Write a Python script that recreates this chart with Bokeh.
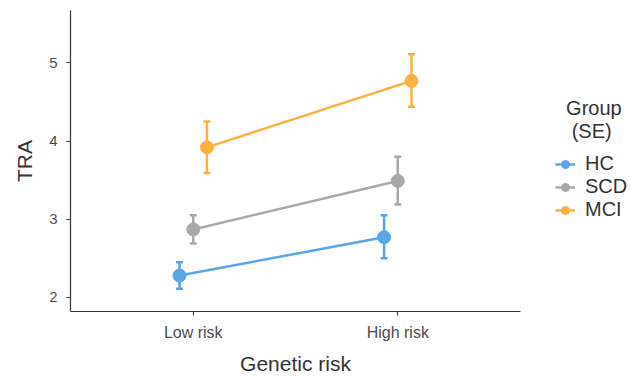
from bokeh.plotting import figure
from bokeh.models import ColumnDataSource, Whisker, TeeHead, Legend, LegendItem, Range1d, FactorRange
from bokeh.transform import dodge
from bokeh.embed import file_html
from bokeh.resources import INLINE

# Data
risk_levels = ["Low risk", "High risk"]
groups = ["HC", "SCD", "MCI"]
colors = ["#58A5EB", "#A8A8A8", "#FBB040"]
offsets = [-0.067, 0.0, 0.067]

hc_mean = [2.28, 2.77]
hc_lower = [2.11, 2.50]
hc_upper = [2.45, 3.05]

scd_mean = [2.87, 3.49]
scd_lower = [2.69, 3.19]
scd_upper = [3.05, 3.80]

mci_mean = [3.92, 4.77]
mci_lower = [3.59, 4.44]
mci_upper = [4.25, 5.11]

y_ticks = [2, 3, 4, 5]

FONT = "Liberation Sans"
FW, FH = 450, 301

p = figure(frame_width=FW, frame_height=FH,
           x_range=FactorRange(*risk_levels, range_padding=0.1, range_padding_units="absolute"),
           y_range=Range1d(1.82, 5.67),
           output_backend="svg", toolbar_location=None,
           min_border_left=70, min_border_right=110, min_border_top=10, min_border_bottom=65)

p.xgrid.visible = False
p.ygrid.visible = False
p.outline_line_color = None
p.background_fill_color = "white"
p.border_fill_color = "white"

for ax in (p.xaxis[0], p.yaxis[0]):
    ax.axis_line_color = "#333333"
    ax.axis_line_width = 1.2
    ax.major_tick_line_color = "#333333"
    ax.major_tick_out = 4
    ax.major_tick_in = 0
    ax.minor_tick_line_color = None
    ax.major_label_text_font = FONT
    ax.major_label_text_color = "#4D4D4D"
    ax.axis_label_text_font = FONT
    ax.axis_label_text_font_size = "21px"
    ax.axis_label_text_font_style = "normal"
    ax.axis_label_text_color = "#333333"

p.yaxis.ticker = y_ticks
p.yaxis.major_label_text_font_size = "15px"
p.xaxis.major_label_text_font_size = "16px"
p.yaxis.major_label_standoff = 9
p.yaxis.axis_label = "TRA"
p.yaxis.axis_label_standoff = 10
p.xaxis.major_label_standoff = 8
p.xaxis.axis_label = "Genetic risk"
p.xaxis.axis_label_standoff = 8

series = [(hc_mean, hc_lower, hc_upper), (scd_mean, scd_lower, scd_upper), (mci_mean, mci_lower, mci_upper)]
items = []
for name, color, off, (m, lo, up) in zip(groups, colors, offsets, series):
    src = ColumnDataSource(dict(x=risk_levels, mean=m, lower=lo, upper=up))
    xd = dodge("x", off, range=p.x_range)
    ln = p.line(x=xd, y="mean", source=src, line_color=color, line_width=2.5)
    w = Whisker(base=xd, upper="upper", lower="lower", source=src, dimension="height",
                line_color=color, line_width=2.5,
                upper_head=TeeHead(size=7, line_color=color, line_width=2.5),
                lower_head=TeeHead(size=7, line_color=color, line_width=2.5))
    p.add_layout(w)
    sc = p.scatter(x=xd, y="mean", source=src, size=13, fill_color=color, line_color=color)
    items.append(LegendItem(label=name, renderers=[ln, sc]))

legend = Legend(items=items, location=(35, 90), orientation="vertical",
                title="  Group\n   (SE)",
                title_text_font=FONT, title_text_font_size="20px", title_text_color="#333333",
                title_text_font_style="normal", title_standoff=9,
                label_text_font=FONT, label_text_font_size="20px", label_text_color="#333333",
                glyph_width=20, glyph_height=20, label_height=20, spacing=0, label_standoff=10,
                padding=0, margin=0, border_line_color=None, background_fill_alpha=0)
p.add_layout(legend, "right")

open("out.html", "w").write(file_html(p, INLINE))
